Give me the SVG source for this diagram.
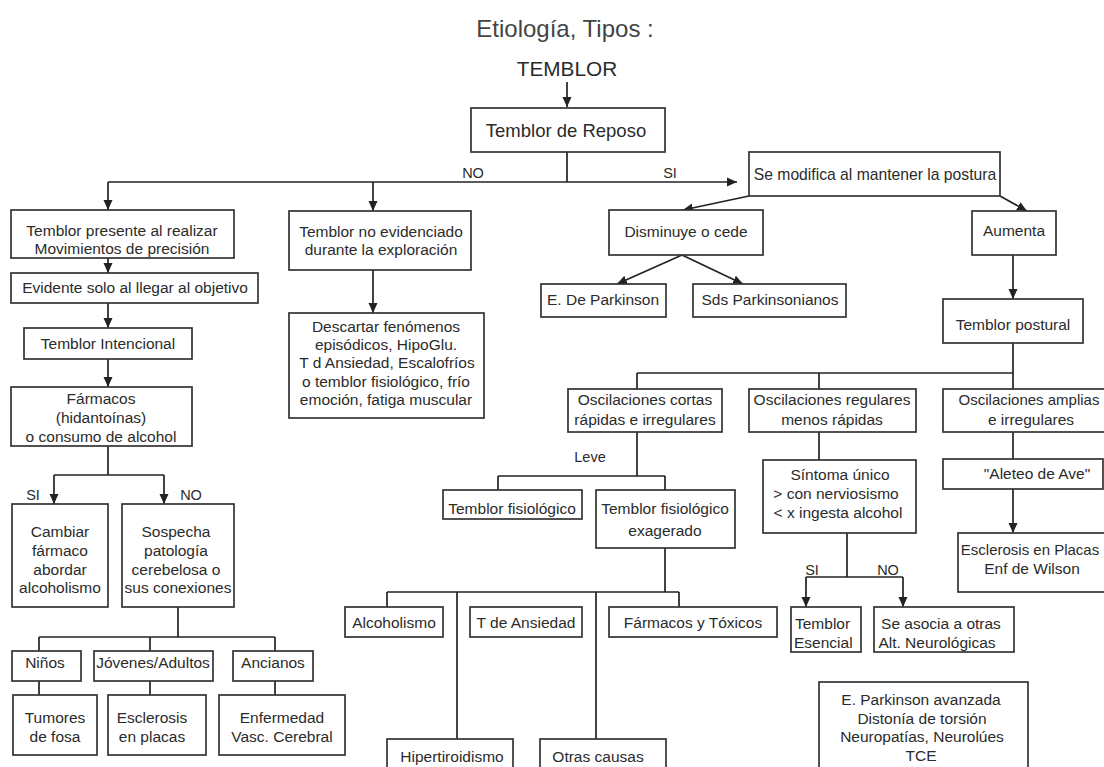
<svg xmlns="http://www.w3.org/2000/svg" width="1104" height="767" viewBox="0 0 1104 767">
<defs>
<marker id="ah" markerWidth="10" markerHeight="10" refX="10" refY="5" orient="auto" markerUnits="userSpaceOnUse">
<path d="M0,0.5 L10,5 L0,9.5 z" fill="#222"/>
</marker>
<style>
.b{fill:#fff;stroke:#333;stroke-width:1.7}
.t{font-family:"Liberation Sans",Arial,sans-serif;font-size:15.5px;fill:#2b2b2b;text-anchor:middle}
.l{text-anchor:start}
.c{stroke:#222;stroke-width:1.7;fill:none}
.a{marker-end:url(#ah)}
</style>
</defs>
<rect width="1104" height="767" fill="#fff"/>

<g id="connectors">
<line class="c a" x1="567" y1="82" x2="567" y2="107"/>
<line class="c" x1="567" y1="152" x2="567" y2="182"/>
<line class="c a" x1="108" y1="182" x2="737" y2="182"/>
<line class="c a" x1="108" y1="182" x2="108" y2="210"/>
<line class="c a" x1="373" y1="182" x2="373" y2="211"/>
<line class="c a" x1="108" y1="258" x2="108" y2="273"/>
<line class="c a" x1="108" y1="303" x2="108" y2="328"/>
<line class="c a" x1="108" y1="359" x2="108" y2="387"/>
<line class="c" x1="108" y1="446" x2="108" y2="475"/>
<line class="c" x1="54" y1="475" x2="164" y2="475"/>
<line class="c a" x1="54" y1="475" x2="54" y2="504"/>
<line class="c a" x1="164" y1="475" x2="164" y2="504"/>
<line class="c" x1="178" y1="607" x2="178" y2="637"/>
<line class="c" x1="39" y1="637" x2="275" y2="637"/>
<line class="c" x1="39" y1="637" x2="39" y2="651"/>
<line class="c" x1="150" y1="637" x2="150" y2="651"/>
<line class="c" x1="275" y1="637" x2="275" y2="651"/>
<line class="c" x1="39" y1="681" x2="39" y2="695"/>
<line class="c" x1="150" y1="681" x2="150" y2="695"/>
<line class="c" x1="275" y1="681" x2="275" y2="695"/>
<line class="c a" x1="373" y1="270" x2="373" y2="313"/>
<line class="c a" x1="749" y1="196" x2="683" y2="210"/>
<line class="c a" x1="682" y1="255" x2="617" y2="284"/>
<line class="c a" x1="682" y1="255" x2="743" y2="284"/>
<line class="c a" x1="1000" y1="196" x2="1027" y2="211"/>
<line class="c a" x1="1013" y1="255" x2="1013" y2="299"/>
<line class="c" x1="1013" y1="343" x2="1013" y2="389"/>
<line class="c" x1="637" y1="373" x2="1013" y2="373"/>
<line class="c" x1="637" y1="373" x2="637" y2="389"/>
<line class="c" x1="819" y1="373" x2="819" y2="389"/>
<line class="c" x1="637" y1="432" x2="637" y2="476"/>
<line class="c" x1="498" y1="476" x2="665" y2="476"/>
<line class="c" x1="498" y1="476" x2="498" y2="490"/>
<line class="c" x1="665" y1="476" x2="665" y2="490"/>
<line class="c" x1="665" y1="548" x2="665" y2="592"/>
<line class="c" x1="387" y1="592" x2="679" y2="592"/>
<line class="c" x1="387" y1="592" x2="387" y2="607"/>
<line class="c" x1="457" y1="592" x2="457" y2="739"/>
<line class="c" x1="596" y1="592" x2="596" y2="739"/>
<line class="c" x1="679" y1="592" x2="679" y2="607"/>
<line class="c" x1="819" y1="432" x2="819" y2="460"/>
<line class="c" x1="847" y1="533" x2="847" y2="577"/>
<line class="c" x1="806" y1="577" x2="903" y2="577"/>
<line class="c a" x1="806" y1="577" x2="806" y2="607"/>
<line class="c a" x1="903" y1="577" x2="903" y2="607"/>
<line class="c" x1="1013" y1="432" x2="1013" y2="459"/>
<line class="c a" x1="1013" y1="489" x2="1013" y2="533"/>
</g>

<g id="labels">
<text class="t" x="565" y="37" style="font-size:24px;fill:#444">Etiología, Tipos :</text>
<text class="t" x="567" y="76" style="font-size:20.8px">TEMBLOR</text>
<text class="t" x="473" y="178" style="font-size:14.5px">NO</text>
<text class="t" x="670" y="178" style="font-size:14.5px">SI</text>
<text class="t" x="33" y="500" style="font-size:14.5px">SI</text>
<text class="t" x="191" y="500" style="font-size:14.5px">NO</text>
<text class="t" x="590" y="462" style="font-size:14.5px">Leve</text>
<text class="t" x="812" y="575" style="font-size:14.5px">SI</text>
<text class="t" x="888" y="575" style="font-size:14.5px">NO</text>
</g>

<g id="reposo"><rect class="b" x="471" y="108" width="194" height="44"/><text class="t" x="566" y="137" style="font-size:18.5px">Temblor de Reposo</text></g>
<g id="semodifica"><rect class="b" x="749" y="152" width="251" height="44"/><text class="t" x="875" y="180" style="font-size:15.7px">Se modifica al mantener la postura</text></g>
<g id="presente"><rect class="b" x="11" y="210" width="223" height="48"/><text class="t" x="122" y="236">Temblor presente al realizar</text><text class="t" x="122" y="254">Movimientos de precisión</text></g>
<g id="evidente"><rect class="b" x="11" y="273" width="247" height="30"/><text class="t" x="135" y="293">Evidente solo al llegar al objetivo</text></g>
<g id="intencional"><rect class="b" x="24" y="328" width="168" height="31"/><text class="t" x="108" y="349">Temblor Intencional</text></g>
<g id="farmacos"><rect class="b" x="11" y="387" width="181" height="59"/><text class="t" x="101" y="404">Fármacos</text><text class="t" x="101" y="423">(hidantoínas)</text><text class="t" x="101" y="442">o consumo de alcohol</text></g>
<g id="cambiar"><rect class="b" x="12" y="504" width="96" height="103"/><text class="t" x="60" y="537">Cambiar</text><text class="t" x="60" y="556">fármaco</text><text class="t" x="60" y="575">abordar</text><text class="t" x="60" y="593">alcoholismo</text></g>
<g id="sospecha"><rect class="b" x="122" y="504" width="112" height="103"/><text class="t" x="176" y="537">Sospecha</text><text class="t" x="176" y="556">patología</text><text class="t" x="176" y="575">cerebelosa o</text><text class="t" x="178" y="593">sus conexiones</text></g>
<g id="ninos"><rect class="b" x="12" y="651" width="69" height="30"/><text class="t" x="45" y="668">Niños</text></g>
<g id="jovenes"><rect class="b" x="94" y="651" width="119" height="30"/><text class="t" x="153" y="668">Jóvenes/Adultos</text></g>
<g id="ancianos"><rect class="b" x="233" y="651" width="80" height="30"/><text class="t" x="273" y="668">Ancianos</text></g>
<g id="tumores"><rect class="b" x="13" y="695" width="84" height="60"/><text class="t" x="55" y="723">Tumores</text><text class="t" x="55" y="742">de fosa</text></g>
<g id="esclerosis"><rect class="b" x="108" y="695" width="98" height="60"/><text class="t" x="152" y="723">Esclerosis</text><text class="t" x="152" y="742">en placas</text></g>
<g id="enfermedad"><rect class="b" x="219" y="695" width="126" height="60"/><text class="t" x="282" y="723">Enfermedad</text><text class="t" x="282" y="742">Vasc. Cerebral</text></g>
<g id="noevidenciado"><rect class="b" x="289" y="211" width="182" height="59"/><text class="t" x="381" y="237">Temblor no evidenciado</text><text class="t" x="381" y="255">durante la exploración</text></g>
<g id="descartar"><rect class="b" x="289" y="313" width="195" height="105"/><text class="t" x="386" y="332">Descartar fenómenos</text><text class="t" x="386" y="350">episódicos, HipoGlu.</text><text class="t" x="387" y="368">T d Ansiedad, Escalofríos</text><text class="t" x="386" y="387">o temblor fisiológico, frío</text><text class="t" x="386" y="405">emoción, fatiga muscular</text></g>
<g id="disminuye"><rect class="b" x="609" y="210" width="154" height="45"/><text class="t" x="686" y="237">Disminuye o cede</text></g>
<g id="eparkinson"><rect class="b" x="541" y="284" width="125" height="33"/><text class="t" x="603" y="305">E. De Parkinson</text></g>
<g id="sds"><rect class="b" x="693" y="284" width="153" height="33"/><text class="t" x="770" y="305">Sds Parkinsonianos</text></g>
<g id="aumenta"><rect class="b" x="972" y="211" width="84" height="44"/><text class="t" x="1014" y="236">Aumenta</text></g>
<g id="postural"><rect class="b" x="943" y="299" width="140" height="44"/><text class="t" x="1013" y="330">Temblor postural</text></g>
<g id="osccortas"><rect class="b" x="568" y="389" width="154" height="43"/><text class="t" x="645" y="405">Oscilaciones cortas</text><text class="t" x="645" y="425">rápidas e irregulares</text></g>
<g id="oscregulares"><rect class="b" x="749" y="389" width="167" height="43"/><text class="t" x="832" y="405">Oscilaciones regulares</text><text class="t" x="832" y="425">menos rápidas</text></g>
<g id="oscamplias"><rect class="b" x="943" y="389" width="180" height="43"/><text class="t" x="1029" y="405" style="font-size:15px">Oscilaciones amplias</text><text class="t" x="1031" y="425">e irregulares</text></g>
<g id="sintoma"><rect class="b" x="763" y="460" width="153" height="73"/><text class="t" x="840" y="480">Síntoma único</text><text class="t" x="836" y="499">&gt; con nerviosismo</text><text class="t" x="838" y="518">&lt; x ingesta alcohol</text></g>
<g id="aleteo"><rect class="b" x="943" y="459" width="160" height="30"/><text class="t" x="1037" y="479">"Aleteo de Ave"</text></g>
<g id="esclerosisplacas"><rect class="b" x="958" y="533" width="160" height="59"/><text class="t" x="1030" y="555" style="font-size:15px">Esclerosis en Placas</text><text class="t" x="1032" y="574">Enf de Wilson</text></g>
<g id="esencial"><rect class="b" x="791" y="607" width="70" height="45"/><text class="t l" x="795" y="629">Temblor</text><text class="t l" x="794" y="648">Esencial</text></g>
<g id="seasocia"><rect class="b" x="874" y="607" width="140" height="45"/><text class="t" x="941" y="629">Se asocia a otras</text><text class="t" x="937" y="648">Alt. Neurológicas</text></g>
<g id="avanzada"><rect class="b" x="819" y="682" width="209" height="95"/><text class="t" x="921" y="705">E. Parkinson avanzada</text><text class="t" x="922" y="724">Distonía de torsión</text><text class="t" x="922" y="742">Neuropatías, Neurolúes</text><text class="t" x="921" y="761">TCE</text></g>
<g id="fisiologico"><rect class="b" x="443" y="490" width="139" height="29"/><text class="t" x="512" y="514">Temblor fisiológico</text></g>
<g id="exagerado"><rect class="b" x="596" y="490" width="139" height="58"/><text class="t" x="665" y="514">Temblor fisiológico</text><text class="t" x="665" y="536">exagerado</text></g>
<g id="alcoholismo"><rect class="b" x="345" y="607" width="98" height="30"/><text class="t" x="394" y="628">Alcoholismo</text></g>
<g id="ansiedad"><rect class="b" x="470" y="607" width="112" height="30"/><text class="t" x="526" y="628">T de Ansiedad</text></g>
<g id="toxicos"><rect class="b" x="609" y="607" width="168" height="30"/><text class="t" x="693" y="628">Fármacos y Tóxicos</text></g>
<g id="hipertiroidismo"><rect class="b" x="387" y="739" width="126" height="40"/><text class="t" x="452" y="762">Hipertiroidismo</text></g>
<g id="otras"><rect class="b" x="540" y="739" width="126" height="40"/><text class="t" x="598" y="762">Otras causas</text></g>
</svg>
